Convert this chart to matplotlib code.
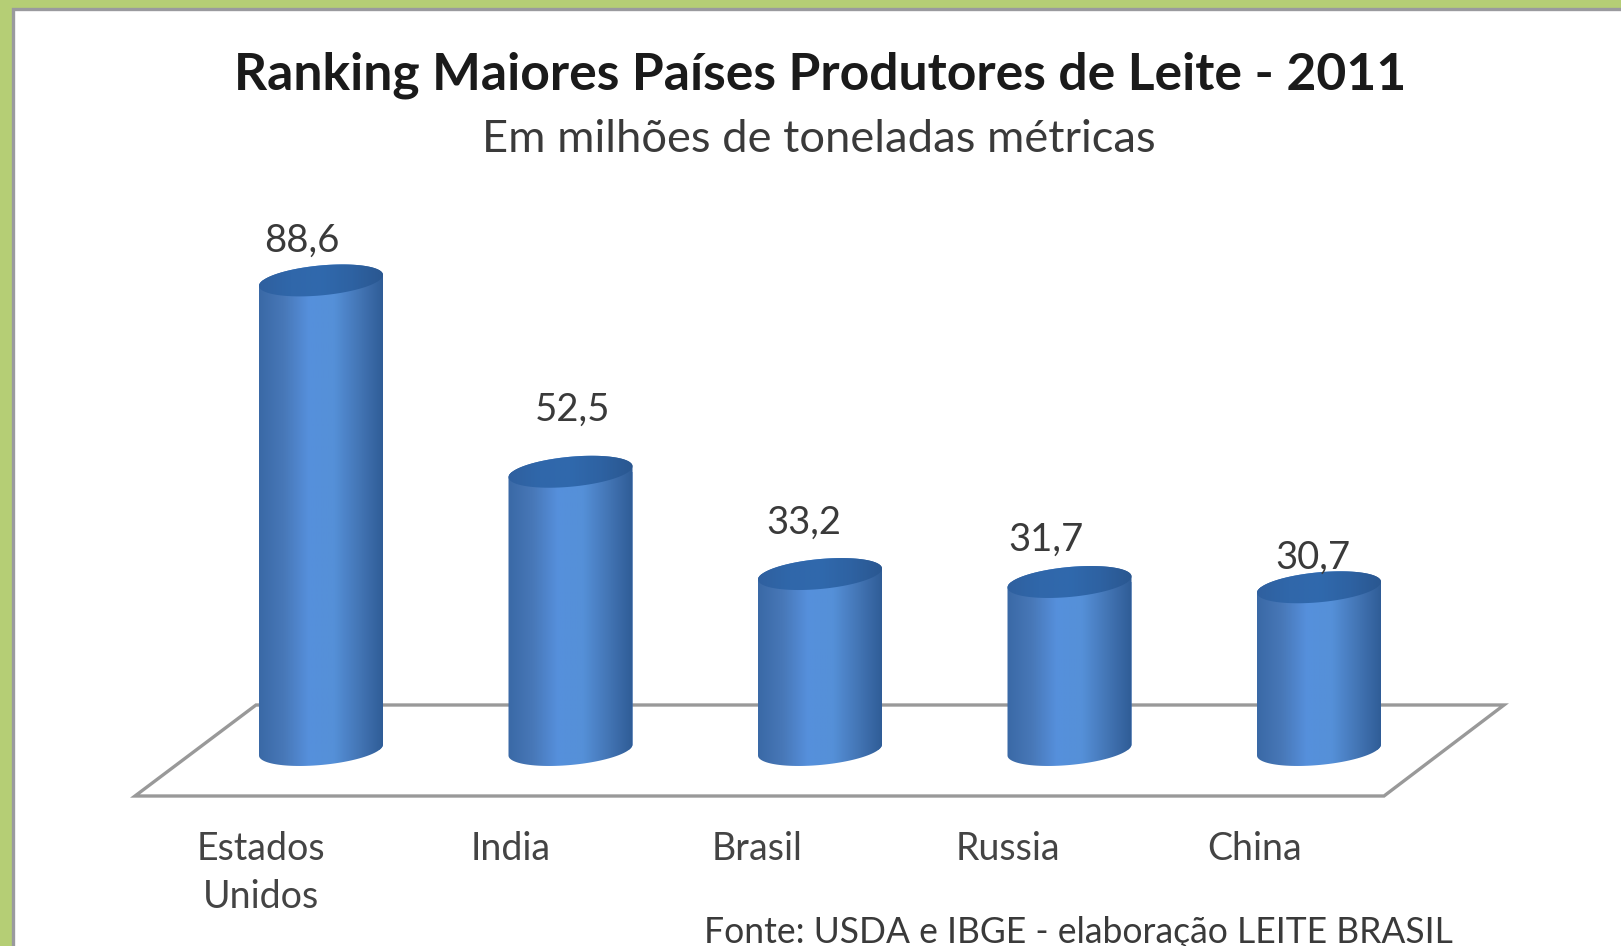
import numpy as np
import matplotlib
matplotlib.use('Agg')
import matplotlib.pyplot as plt
from matplotlib.colors import LinearSegmentedColormap
from matplotlib.patches import Polygon, Rectangle
from matplotlib.path import Path

plt.rcParams['font.family'] = ['Lato', 'DejaVu Sans']

countries = ['Estados\nUnidos', 'India', 'Brasil', 'Russia', 'China']
production = [88.6, 52.5, 33.2, 31.7, 30.7]
value_labels = ['88,6', '52,5', '33,2', '31,7', '30,7']

title = 'Ranking Maiores Países Produtores de Leite - 2011'
subtitle = 'Em milhões de toneladas métricas'
source = 'Fonte: USDA e IBGE - elaboração LEITE BRASIL'

W, H = 1621, 946
PX_X = 249.5   # pixels per category
PX_Y = 5.3     # pixels per million tons
X0 = 321       # pixel x of first bar
Y0 = 750       # pixel y (from top) of value 0

# the labels sit off centre in the original, offsets in pixels
label_dx = [-19, 2, -16, -24, -6]
label_dy = [40, 62, 51, 42, 30]
name_dx = [-60, -60, -63, -62, -64]

fig = plt.figure(figsize=(W / 100, H / 100), dpi=100, facecolor='#b5ce75')
ax = fig.add_axes([0, 0, 1, 1])
ax.axis('off')
xlim = (-X0 / PX_X, (W - X0) / PX_X)
ylim = (-(H - Y0) / PX_Y, Y0 / PX_Y)


def data_x(px):
    return (px - X0) / PX_X


def data_y(py):
    return (Y0 - py) / PX_Y


# white panel with the grey edge on top and left
ax.add_patch(Rectangle((data_x(13), data_y(H)), (W - 13) / PX_X, (H - 9) / PX_Y,
                       fc='white', ec='none', zorder=0))
ax.plot([data_x(13.5), data_x(13.5), xlim[1]], [ylim[0], data_y(9.5), data_y(9.5)],
        color='#9a9a9e', lw=2.4, zorder=1, solid_joinstyle='miter')

# floor of the 3d chart
floor = [(135, 796), (1384, 796), (1504, 705), (256, 705)]
ax.add_patch(Polygon([(data_x(a), data_y(b)) for a, b in floor], closed=True,
                     fc='white', ec='#999999', lw=2.4, zorder=1))

body_cmap = LinearSegmentedColormap.from_list(
    'body', ['#3a69a6', '#4878b8', '#5690dc', '#5590d8', '#4476b6', '#2f5c96'])
top_cmap = LinearSegmentedColormap.from_list(
    'top', ['#2f609f', '#3067aa', '#3069ad', '#2e62a2', '#2a5790'])

x = np.arange(len(production))
bars = ax.bar(x, production, width=124 / PX_X, color='#4a80c8', zorder=2)


def ellipse(cx, level, t, minor=15):
    # sheared ellipse, right side higher
    a = 62 / PX_X
    px = a * np.cos(t)
    py = (5.5 * np.cos(t) + minor * np.sin(t)) / PX_Y
    return np.column_stack([cx + px, level + py])


for bar, xc, val in zip(bars, x, production):
    low = ellipse(xc, 0, np.linspace(np.pi, 2 * np.pi, 60))
    high = ellipse(xc, val, np.linspace(0, np.pi, 60))
    body = Path(np.vstack([low, high, low[:1]]), closed=True)
    bar.set_clip_path(body, ax.transData)

    extent = (xc - 0.25, xc + 0.25, -4, val + 4)
    grad = np.linspace(0, 1, 200)[None, :]
    im = ax.imshow(grad, cmap=body_cmap, extent=extent, aspect='auto', zorder=3)
    im.set_clip_path(body, ax.transData)

    lid = Path(ellipse(xc, val, np.linspace(0, 2 * np.pi, 120)), closed=True)
    im2 = ax.imshow(grad, cmap=top_cmap, extent=extent, aspect='auto', zorder=4)
    im2.set_clip_path(lid, ax.transData)

ax.set_xlim(xlim)
ax.set_ylim(ylim)

for xc, val, txt, dx, dy in zip(x, production, value_labels, label_dx, label_dy):
    ax.annotate(txt, (xc, val), xytext=(dx * 0.72, dy * 0.72), textcoords='offset points',
                ha='center', va='center', fontsize=27.5, color='#3a3a3a', zorder=5)

for xc, name, dx in zip(x, countries, name_dx):
    ax.text(xc + dx / PX_X, data_y(831), name, ha='center', va='top', fontsize=27,
            color='#444444', linespacing=1.42, zorder=5)

ax.text(data_x(820), data_y(75), title, ha='center', va='center', fontsize=37.2,
        fontweight='bold', color='#1a1a1a', zorder=5)
ax.text(data_x(819), data_y(140), subtitle, ha='center', va='center', fontsize=32.6,
        color='#3a3a3a', zorder=5)
ax.text(data_x(704), data_y(932), source, ha='left', va='center', fontsize=25.6,
        color='#3a3a3a', zorder=5)

fig.savefig('out.png', dpi=100, facecolor=fig.get_facecolor())
